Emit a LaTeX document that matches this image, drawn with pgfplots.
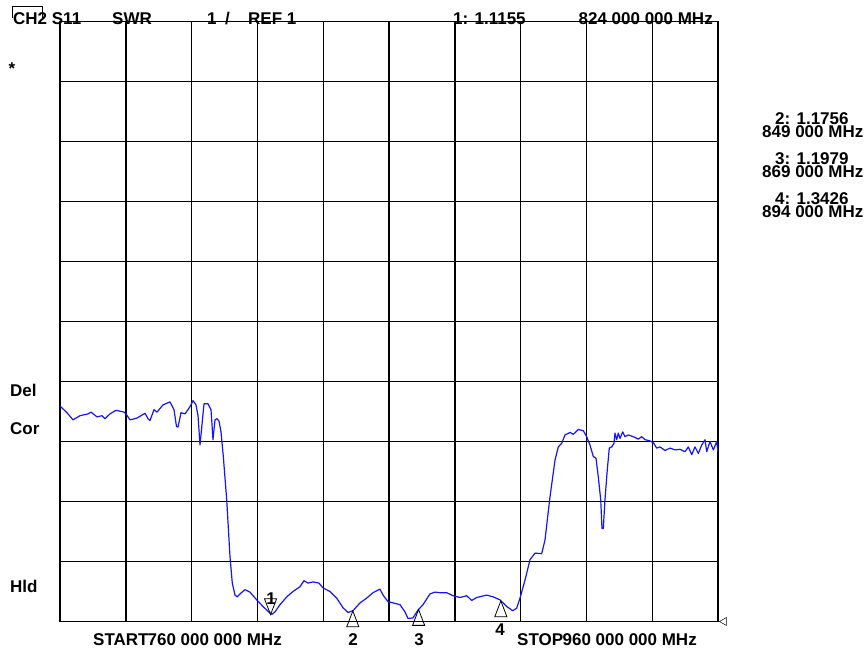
\documentclass[border=0pt]{standalone}
\usepackage{fontspec}
\setmainfont{Liberation Sans}
\usepackage{pgfplots}
\pgfplotsset{compat=1.18}

\definecolor{trace}{RGB}{20,20,255}

\begin{document}
\begin{tikzpicture}[x=1pt,y=1pt,
    lbl/.style={inner sep=0pt, font=\fontsize{17}{17}\selectfont\bfseries}]
\path[use as bounding box] (0,0) rectangle (868,653);
\begin{axis}[
    at={(60pt,31.5pt)}, anchor=south west,
    scale only axis, width=658pt, height=600pt,
    xmin=760, xmax=960, ymin=1, ymax=11,
    xtick={760,780,...,960}, ytick={1,2,...,11},
    xticklabels={}, yticklabels={},
    major tick length=0pt,
    grid=major,
    major grid style={black, line width=1.4pt},
    axis line style={black, line width=1.4pt},
    clip=false
]
% SWR trace
\addplot[trace, line width=1.2pt, line join=round] coordinates {
(760.00,4.59) (762.13,4.48) (763.95,4.36) (766.08,4.43) (768.51,4.46) (769.42,4.49)
(771.25,4.41) (772.77,4.43) (773.68,4.38) (775.20,4.46) (777.02,4.52) (779.45,4.49)
(780.06,4.46) (781.28,4.36) (783.40,4.39) (785.84,4.47) (786.75,4.38) (787.36,4.35)
(788.57,4.53) (789.48,4.49) (791.31,4.61) (793.43,4.66) (794.65,4.53) (795.41,4.25)
(795.87,4.24) (796.78,4.48) (797.99,4.46) (799.51,4.58) (800.43,4.68) (801.34,4.61)
(801.95,4.43) (802.55,3.94) (803.16,4.28) (803.77,4.63) (804.98,4.63) (805.90,4.53)
(806.50,4.03) (807.11,4.36) (807.72,4.38) (808.33,4.34) (808.94,4.16) (809.64,3.75)
(810.67,3.03) (811.67,2.08) (812.37,1.64) (813.19,1.44) (813.89,1.41) (814.71,1.46)
(816.23,1.53) (817.75,1.49) (819.79,1.36) (821.70,1.25) (823.83,1.14) (824.44,1.12)
(825.35,1.16) (826.87,1.28) (828.91,1.41) (830.82,1.50) (832.95,1.58) (834.16,1.68)
(835.38,1.64) (836.90,1.66) (838.72,1.64) (839.94,1.56) (842.07,1.50) (844.10,1.39)
(846.02,1.23) (847.54,1.15) (849.06,1.18) (851.19,1.31) (853.22,1.39) (855.14,1.48)
(857.26,1.54) (858.18,1.44) (859.70,1.33) (861.22,1.31) (863.34,1.28) (864.86,1.16)
(865.78,1.05) (867.30,1.06) (868.81,1.19) (870.33,1.28) (872.46,1.46) (873.98,1.49)
(875.50,1.48) (877.54,1.48) (879.45,1.43) (881.58,1.40) (883.62,1.43) (885.14,1.35)
(886.66,1.40) (889.70,1.44) (891.70,1.41) (893.74,1.36) (895.78,1.25) (897.60,1.18)
(898.81,1.22) (899.82,1.39) (901.34,1.69) (902.86,2.03) (904.38,2.14) (906.41,2.13)
(907.42,2.36) (908.94,3.08) (910.46,3.69) (911.46,3.91) (912.49,3.97) (913.50,4.11)
(915.02,4.15) (916.02,4.12) (917.54,4.20) (919.06,4.18) (920.09,4.08) (921.09,3.94)
(922.10,3.75) (922.92,3.72) (923.62,3.41) (924.35,3.03) (924.74,2.55) (925.14,2.55)
(925.65,3.03) (926.35,3.53) (926.96,3.89) (927.69,3.91) (928.39,3.97) (928.69,4.14)
(929.21,4.03) (929.70,4.14) (930.21,4.05) (931.03,4.16) (931.73,4.08) (932.73,4.11)
(934.25,4.08) (935.77,4.04) (936.81,4.08) (937.81,4.03) (939.33,4.01) (940.33,3.98)
(941.37,3.89) (942.37,3.91) (943.89,3.85) (945.41,3.89) (946.93,3.86) (948.45,3.87)
(949.97,3.83) (950.98,3.91) (952.01,3.78) (953.01,3.91) (954.01,3.80) (955.05,3.94)
(956.05,4.03) (956.57,3.83) (957.57,4.00) (958.58,3.86) (959.61,4.00) (960.00,3.83)
};
% marker 1 (active, pointing down)
\addplot[only marks, mark=triangle, mark size=7pt,
    mark options={yshift=10.5pt, yscale=-1.5, black, line width=0.8pt, fill=none}]
    coordinates {(824,1.1155)};
% markers 2-4
\addplot[only marks, mark=triangle, mark size=7pt,
    mark options={yshift=-10.5pt, yscale=1.5, black, line width=0.8pt, fill=none}]
    coordinates {(849,1.1756) (869,1.1979) (894,1.3426)};
% reference level pointer
\addplot[only marks, mark=triangle, mark size=4.5pt,
    mark options={xshift=6pt, rotate=90, black, line width=0.5pt, fill=none}]
    coordinates {(960,1)};
\end{axis}

% header
\draw[black, line width=0.8pt] (12,635) -- (12,647) -- (42,647) -- (42,635);
\node[lbl, anchor=base west] at (13,628) {CH2 S11};
\node[lbl, anchor=base west] at (112,628) {SWR};
\node[lbl, anchor=base west] at (207,628) {1};
\node[lbl, anchor=base west] at (225,628) {/};
\node[lbl, anchor=base west] at (248,628) {REF 1};
\node[lbl, anchor=base west] at (453,628) {1: 1.1155};
\node[lbl, anchor=base east] at (713,628) {824 000 000 MHz};
\node[lbl, anchor=center] at (12,584) {*};

% marker readouts
\node[lbl, anchor=base west] at (775,528) {2: 1.1756};
\node[lbl, anchor=base west] at (762,515) {849 000 MHz};
\node[lbl, anchor=base west] at (775,488) {3: 1.1979};
\node[lbl, anchor=base west] at (762,475) {869 000 MHz};
\node[lbl, anchor=base west] at (775,448) {4: 1.3426};
\node[lbl, anchor=base west] at (762,435) {894 000 MHz};

% side labels
\node[lbl, anchor=base west] at (10,256) {Del};
\node[lbl, anchor=base west] at (10,218) {Cor};
\node[lbl, anchor=base west] at (10,60) {Hld};

% marker numbers
\node[lbl, anchor=base] at (271,48) {1};
\node[lbl, anchor=base] at (353,7) {2};
\node[lbl, anchor=base] at (419,7) {3};
\node[lbl, anchor=base] at (500,17) {4};

% footer
\node[lbl, anchor=base west] at (93,7) {START};
\node[lbl, anchor=base east] at (282,7) {760 000 000 MHz};
\node[lbl, anchor=base west] at (517,7) {STOP};
\node[lbl, anchor=base east] at (697,7) {960 000 000 MHz};
\end{tikzpicture}
\end{document}
